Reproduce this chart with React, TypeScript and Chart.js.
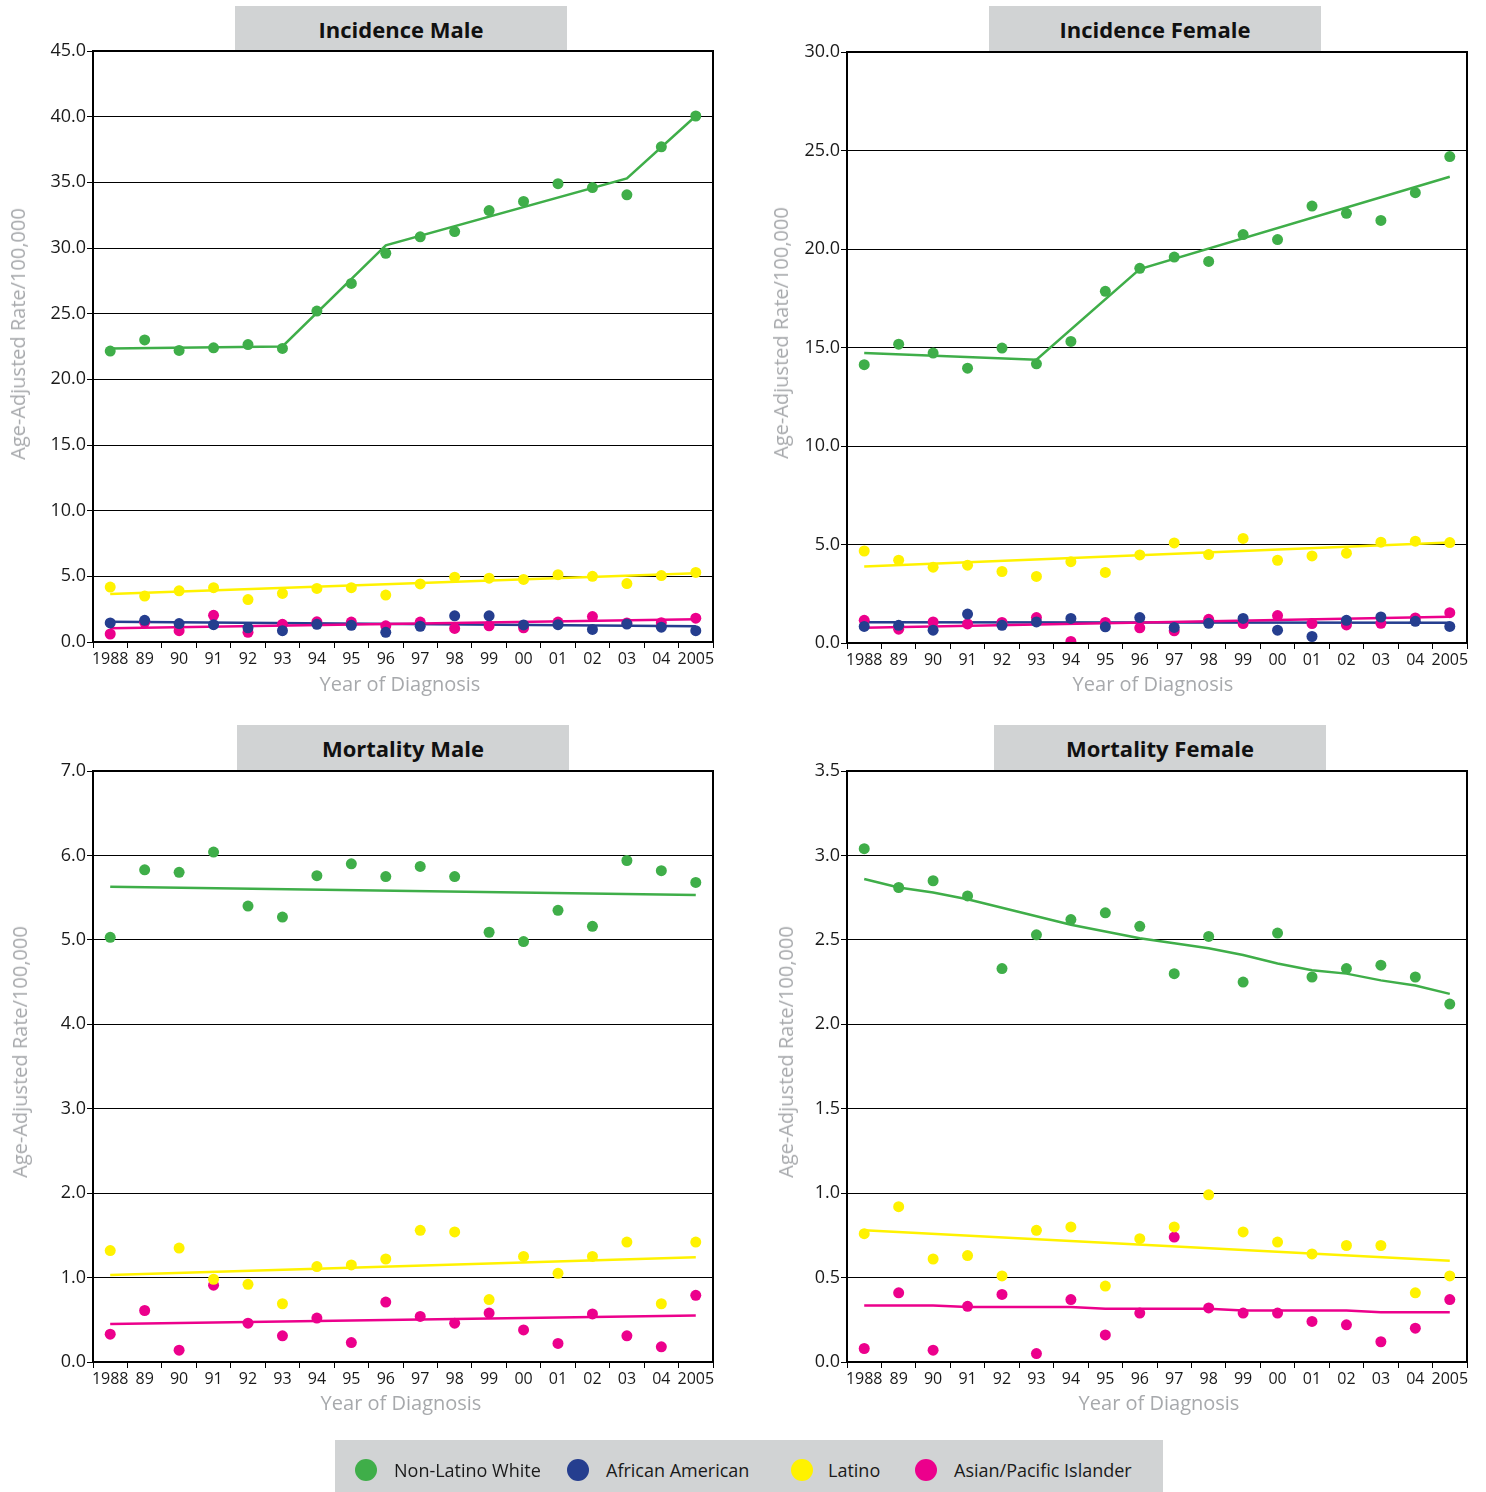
import React, { useEffect, useRef } from 'react';
import { Chart, registerables } from 'chart.js';

Chart.register(...registerables);

// ---- shared axis labels ----
const years = ['1988', '89', '90', '91', '92', '93', '94', '95', '96', '97', '98', '99', '00', '01', '02', '03', '04', '2005'];

// ---- Incidence, male ----
const incMaleWhite = [22.15, 23.0, 22.2, 22.4, 22.65, 22.35, 25.2, 27.3, 29.6, 30.85, 31.25, 32.85, 33.55, 34.9, 34.6, 34.05, 37.7, 40.05];
const incMaleWhiteTrend = [22.35, null, null, null, null, 22.5, null, null, 30.2, null, null, null, null, null, null, 35.3, null, 40.05];
const incMaleBlack = [1.45, 1.65, 1.4, 1.32, 1.08, 0.86, 1.35, 1.27, 0.74, 1.2, 1.99, 1.99, 1.3, 1.32, 0.96, 1.37, 1.13, 0.86];
const incMaleBlackTrend = [1.55, null, null, null, null, null, null, null, null, null, null, null, null, null, null, null, null, 1.2];
const incMaleLatino = [4.18, 3.5, 3.9, 4.14, 3.23, 3.7, 4.08, 4.14, 3.57, 4.42, 4.93, 4.86, 4.76, 5.13, 5.0, 4.45, 5.06, 5.3];
const incMaleLatinoTrend = [3.65, null, null, null, null, null, null, null, null, null, null, null, null, null, null, null, null, 5.23];
const incMaleAsian = [0.61, 1.5, 0.86, 2.03, 0.74, 1.35, 1.54, 1.52, 1.23, 1.52, 1.03, 1.23, 1.08, 1.52, 1.94, 1.45, 1.47, 1.81];
const incMaleAsianTrend = [1.05, null, null, null, null, null, null, null, null, null, null, null, null, null, null, null, null, 1.74];

// ---- Incidence, female ----
const incFemaleWhite = [14.13, 15.17, 14.72, 13.95, 14.97, 14.17, 15.31, 17.85, 19.02, 19.59, 19.37, 20.73, 20.48, 22.18, 21.81, 21.45, 22.86, 24.69];
const incFemaleWhiteTrend = [14.72, null, null, null, null, 14.38, null, null, 18.98, null, null, null, null, null, null, null, null, 23.67];
const incFemaleBlack = [0.84, 0.9, 0.65, 1.47, 0.9, 1.07, 1.25, 0.82, 1.29, 0.79, 1.0, 1.25, 0.65, 0.33, 1.15, 1.32, 1.1, 0.84];
const incFemaleBlackTrend = [1.05, null, null, null, null, null, null, null, null, null, null, null, null, null, null, null, null, 1.03];
const incFemaleLatino = [4.67, 4.2, 3.85, 3.95, 3.63, 3.38, 4.13, 3.58, 4.47, 5.08, 4.49, 5.31, 4.2, 4.42, 4.56, 5.12, 5.17, 5.1];
const incFemaleLatinoTrend = [3.88, null, null, null, null, null, null, null, null, null, null, null, null, null, null, null, null, 5.1];
const incFemaleAsian = [1.15, 0.7, 1.07, 0.97, 1.04, 1.29, 0.08, 1.04, 0.77, 0.62, 1.2, 0.99, 1.39, 0.99, 0.92, 1.0, 1.27, 1.54];
const incFemaleAsianTrend = [0.78, null, null, null, null, null, null, null, null, null, null, null, null, null, null, null, null, 1.33];

// ---- Mortality, male ----
const morMaleWhite = [5.03, 5.83, 5.8, 6.04, 5.4, 5.27, 5.76, 5.9, 5.75, 5.87, 5.75, 5.09, 4.98, 5.35, 5.16, 5.94, 5.82, 5.68];
const morMaleWhiteTrend = [5.63, null, null, null, null, null, null, null, null, null, null, null, null, null, null, null, null, 5.53];
const morMaleLatino = [1.32, null, 1.35, 0.98, 0.92, 0.69, 1.13, 1.15, 1.22, 1.56, 1.54, 0.74, 1.25, 1.05, 1.25, 1.42, 0.69, 1.42];
const morMaleLatinoTrend = [1.03, null, null, null, null, null, null, null, null, null, null, null, null, null, null, null, null, 1.24];
const morMaleAsian = [0.33, 0.61, 0.14, 0.91, 0.46, 0.31, 0.52, 0.23, 0.71, 0.54, 0.46, 0.58, 0.38, 0.22, 0.57, 0.31, 0.18, 0.79];
const morMaleAsianTrend = [0.45, null, null, null, null, null, null, null, null, null, null, null, null, null, null, null, null, 0.55];

// ---- Mortality, female ----
const morFemaleWhite = [3.04, 2.81, 2.85, 2.76, 2.33, 2.53, 2.62, 2.66, 2.58, 2.3, 2.52, 2.25, 2.54, 2.28, 2.33, 2.35, 2.28, 2.12];
const morFemaleWhiteTrend = [2.86, 2.81, 2.78, 2.74, 2.69, 2.64, 2.59, 2.55, 2.51, 2.48, 2.45, 2.41, 2.36, 2.32, 2.3, 2.26, 2.23, 2.18];
const morFemaleLatino = [0.76, 0.92, 0.61, 0.63, 0.51, 0.78, 0.8, 0.45, 0.73, 0.8, 0.99, 0.77, 0.71, 0.64, 0.69, 0.69, 0.41, 0.51];
const morFemaleLatinoTrend = [0.78, null, null, null, null, null, null, null, null, null, null, null, null, null, null, null, null, 0.6];
const morFemaleAsian = [0.08, 0.41, 0.07, 0.33, 0.4, 0.05, 0.37, 0.16, 0.29, 0.74, 0.32, 0.29, 0.29, 0.24, 0.22, 0.12, 0.2, 0.37];
const morFemaleAsianTrend = [0.335, 0.335, 0.335, 0.325, 0.325, 0.325, 0.325, 0.315, 0.315, 0.315, 0.315, 0.305, 0.305, 0.305, 0.305, 0.295, 0.295, 0.295];

// ---- groups ----
const groupNames = ['Non-Latino White', 'African American', 'Latino', 'Asian/Pacific Islander'];
const groupColors = ['#3fae49', '#253e8f', '#fff200', '#ec008c'];

const FONT = "'Open Sans', 'Noto Sans', sans-serif";
const PLOT_W = 620;
const PLOT_H = 591;
const Y_AXIS_W = 80;
const X_AXIS_H = 30;
const PAD_TOP = 16;
const PAD_RIGHT = 8;
const PAD_BOTTOM = 2;

type Series = { color: string; points: (number | null)[]; trend: (number | null)[]; dotOrder: number; lineOrder: number };

type PanelSpec = {
  title: string;
  plotLeft: number;
  plotTop: number;
  yMax: number;
  yStep: number;
  series: Series[];
  titleBox: { x: number; y: number; w: number; h: number };
  yTitle: { x: number; y: number };
  xTitle: { x: number; y: number };
};

const white = (p: (number | null)[], t: (number | null)[]): Series => ({ color: groupColors[0], points: p, trend: t, dotOrder: 0, lineOrder: 4 });
const black = (p: (number | null)[], t: (number | null)[]): Series => ({ color: groupColors[1], points: p, trend: t, dotOrder: 2, lineOrder: 7 });
const latino = (p: (number | null)[], t: (number | null)[]): Series => ({ color: groupColors[2], points: p, trend: t, dotOrder: 1, lineOrder: 5 });
const asian = (p: (number | null)[], t: (number | null)[]): Series => ({ color: groupColors[3], points: p, trend: t, dotOrder: 3, lineOrder: 6 });

const panels: PanelSpec[] = [
  {
    title: 'Incidence Male',
    plotLeft: 93,
    plotTop: 51,
    yMax: 45,
    yStep: 5,
    series: [
      white(incMaleWhite, incMaleWhiteTrend),
      black(incMaleBlack, incMaleBlackTrend),
      latino(incMaleLatino, incMaleLatinoTrend),
      asian(incMaleAsian, incMaleAsianTrend),
    ],
    titleBox: { x: 235, y: 6, w: 332, h: 45 },
    yTitle: { x: 18, y: 334 },
    xTitle: { x: 400, y: 684 },
  },
  {
    title: 'Incidence Female',
    plotLeft: 847,
    plotTop: 52,
    yMax: 30,
    yStep: 5,
    series: [
      white(incFemaleWhite, incFemaleWhiteTrend),
      black(incFemaleBlack, incFemaleBlackTrend),
      latino(incFemaleLatino, incFemaleLatinoTrend),
      asian(incFemaleAsian, incFemaleAsianTrend),
    ],
    titleBox: { x: 989, y: 6, w: 332, h: 46 },
    yTitle: { x: 781, y: 333 },
    xTitle: { x: 1153, y: 684 },
  },
  {
    title: 'Mortality Male',
    plotLeft: 93,
    plotTop: 771,
    yMax: 7,
    yStep: 1,
    series: [
      white(morMaleWhite, morMaleWhiteTrend),
      latino(morMaleLatino, morMaleLatinoTrend),
      asian(morMaleAsian, morMaleAsianTrend),
    ],
    titleBox: { x: 237, y: 725, w: 332, h: 46 },
    yTitle: { x: 20, y: 1052 },
    xTitle: { x: 401, y: 1403 },
  },
  {
    title: 'Mortality Female',
    plotLeft: 847,
    plotTop: 771,
    yMax: 3.5,
    yStep: 0.5,
    series: [
      white(morFemaleWhite, morFemaleWhiteTrend),
      latino(morFemaleLatino, morFemaleLatinoTrend),
      asian(morFemaleAsian, morFemaleAsianTrend),
    ],
    titleBox: { x: 994, y: 725, w: 332, h: 46 },
    yTitle: { x: 786, y: 1052 },
    xTitle: { x: 1159, y: 1403 },
  },
];

// Draws the closed black frame around the plotting area.
const framePlugin = {
  id: 'plotFrame',
  afterDraw(chart: any) {
    const { ctx, chartArea } = chart;
    const { left, top, right, bottom } = chartArea;
    ctx.save();
    ctx.strokeStyle = '#000';
    ctx.lineWidth = 2;
    ctx.strokeRect(left, top, right - left, bottom - top);
    ctx.restore();
  },
};

function Panel({ spec }: { spec: PanelSpec }) {
  const ref = useRef<HTMLCanvasElement | null>(null);
  const canvasW = Y_AXIS_W + PLOT_W + PAD_RIGHT;
  const canvasH = PAD_TOP + PLOT_H + X_AXIS_H + PAD_BOTTOM;

  useEffect(() => {
    if (!ref.current) return;
    const datasets: any[] = [];
    spec.series.forEach((s) => {
      datasets.push({
        data: s.points,
        showLine: false,
        pointRadius: 5.5,
        pointHoverRadius: 5.5,
        pointBackgroundColor: s.color,
        pointBorderWidth: 0,
        borderColor: s.color,
        order: s.dotOrder,
      });
      datasets.push({
        data: s.trend,
        spanGaps: true,
        borderColor: s.color,
        borderWidth: 2.5,
        pointRadius: 0,
        pointHoverRadius: 0,
        tension: 0,
        fill: false,
        order: s.lineOrder,
      });
    });

    const chart = new Chart(ref.current, {
      type: 'line',
      data: { labels: years, datasets },
      plugins: [framePlugin],
      options: {
        responsive: false,
        animation: false,
        events: [],
        layout: { padding: { left: 0, top: PAD_TOP, right: PAD_RIGHT, bottom: PAD_BOTTOM } },
        plugins: { legend: { display: false }, tooltip: { enabled: false }, title: { display: false } },
        scales: {
          x: {
            type: 'category',
            offset: true,
            grid: { offset: true, drawOnChartArea: false, drawTicks: true, tickLength: 6, color: '#000', lineWidth: 1 },
            border: { display: false },
            ticks: {
              color: '#1a1a1a',
              font: { family: FONT, size: 16 },
              padding: 2,
              maxRotation: 0,
              minRotation: 0,
              autoSkip: false,
            },
            afterFit: (scale: any) => {
              scale.height = X_AXIS_H;
            },
          },
          y: {
            type: 'linear',
            min: 0,
            max: spec.yMax,
            grid: { color: '#000', lineWidth: 1, drawTicks: true, tickLength: 6 },
            border: { display: false },
            ticks: {
              stepSize: spec.yStep,
              color: '#1a1a1a',
              font: { family: FONT, size: 18 },
              padding: 1,
              callback: (v: any) => Number(v).toFixed(1),
            },
            afterFit: (scale: any) => {
              scale.width = Y_AXIS_W;
            },
          },
        },
      },
    } as any);
    return () => chart.destroy();
  }, [spec]);

  const tb = spec.titleBox;
  return (
    <>
      <div
        style={{
          position: 'absolute',
          left: tb.x,
          top: tb.y,
          width: tb.w,
          height: tb.h,
          background: '#d1d3d4',
          display: 'flex',
          alignItems: 'center',
          justifyContent: 'center',
          fontFamily: FONT,
          fontWeight: 700,
          fontSize: 22,
          color: '#111',
        }}
      >
        {spec.title}
      </div>
      <canvas
        ref={ref}
        width={canvasW}
        height={canvasH}
        style={{
          position: 'absolute',
          left: spec.plotLeft - Y_AXIS_W,
          top: spec.plotTop - PAD_TOP,
          width: canvasW,
          height: canvasH,
        }}
      />
      <div
        style={{
          position: 'absolute',
          left: spec.yTitle.x,
          top: spec.yTitle.y,
          transform: 'translate(-50%, -50%) rotate(-90deg)',
          whiteSpace: 'nowrap',
          fontFamily: FONT,
          fontSize: 20,
          color: '#a7a9ac',
          lineHeight: 1,
        }}
      >
        Age-Adjusted Rate/100,000
      </div>
      <div
        style={{
          position: 'absolute',
          left: spec.xTitle.x,
          top: spec.xTitle.y,
          transform: 'translate(-50%, -50%)',
          whiteSpace: 'nowrap',
          fontFamily: FONT,
          fontSize: 20,
          color: '#a7a9ac',
          lineHeight: 1,
        }}
      >
        Year of Diagnosis
      </div>
    </>
  );
}

const legendMarkerX = [366, 578, 802, 926];
const legendTextX = [394, 606, 828, 954];

export default function App() {
  return (
    <div style={{ position: 'absolute', left: 0, top: 0, width: 1486, height: 1492, background: '#fff', overflow: 'hidden' }}>
      {panels.map((p) => (
        <Panel key={p.title} spec={p} />
      ))}
      <div style={{ position: 'absolute', left: 335, top: 1440, width: 828, height: 52, background: '#d1d3d4' }} />
      {groupNames.map((name, i) => (
        <React.Fragment key={name}>
          <div
            style={{
              position: 'absolute',
              left: legendMarkerX[i] - 11,
              top: 1470 - 11,
              width: 22,
              height: 22,
              borderRadius: '50%',
              background: groupColors[i],
            }}
          />
          <div
            style={{
              position: 'absolute',
              left: legendTextX[i],
              top: 1470,
              transform: 'translateY(-50%)',
              whiteSpace: 'nowrap',
              fontFamily: FONT,
              fontSize: 18,
              color: '#1a1a1a',
              lineHeight: 1,
            }}
          >
            {name}
          </div>
        </React.Fragment>
      ))}
    </div>
  );
}
